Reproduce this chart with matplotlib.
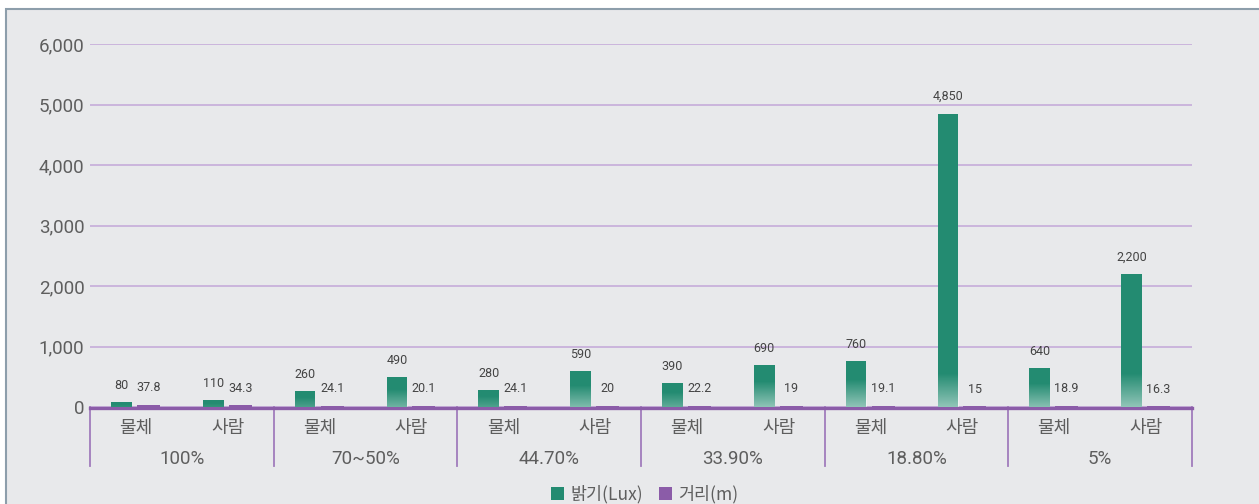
import numpy as np
import matplotlib
matplotlib.use("Agg")
import matplotlib.pyplot as plt
from matplotlib.patches import Rectangle, Patch
from matplotlib.ticker import FuncFormatter

# ---- data ----
groups = ["100%", "70~50%", "44.70%", "33.90%", "18.80%", "5%"]
targets = ["물체", "사람"]
brightness = [80, 110, 260, 490, 280, 590, 390, 690, 760, 4850, 640, 2200]
distance = [37.8, 34.3, 24.1, 20.1, 24.1, 20, 22.2, 19, 19.1, 15, 18.9, 16.3]
y_ticks = [0, 1000, 2000, 3000, 4000, 5000, 6000]
series_names = ["밝기(Lux)", "거리(m)"]

GREEN = "#238b71"
PURPLE = "#8b5ca8"
GRID = "#c6acd9"
TEXT = "#5e5e5e"
BG = "#e8e9eb"

plt.rcParams["font.family"] = ["Noto Sans CJK KR", "DejaVu Sans"]
NUM_FONT = ["Liberation Sans Narrow", "Roboto", "DejaVu Sans"]

fig = plt.figure(figsize=(12.59, 5.04), dpi=100)
fig.patch.set_facecolor("white")
fig.add_artist(Rectangle((5.5 / 1259, -0.05), 1.2, 1 - 8.5 / 504 + 0.05,
                         transform=fig.transFigure, facecolor=BG,
                         edgecolor="#8d9eab", linewidth=1.5, zorder=0))

ax = fig.add_axes([90 / 1259, 1 - 407 / 504, (1192 - 90) / 1259, (407 - 44) / 504])
ax.set_facecolor("none")

n = len(brightness)
x = np.arange(n) + 0.5
g_off, p_off = -0.158, 0.136

gbars = ax.bar(x + g_off, brightness, width=0.225, color=GREEN, zorder=3)
pbars = ax.bar(x + p_off, distance, width=0.25, color=PURPLE, zorder=3)

# light fade at the foot of each brightness bar, stronger on taller bars
grad = np.zeros((64, 1, 4))
grad[..., :3] = 1.0
for bar, v in zip(gbars, brightness):
    x0 = bar.get_x()
    fade_h = min(0.6 * v, 560)
    g = grad.copy()
    g[:, 0, 3] = np.linspace(0.5 * min(1.0, v / 700), 0.0, 64)
    im = ax.imshow(g, origin="lower", aspect="auto",
                   extent=(x0, x0 + bar.get_width(), 0, fade_h),
                   interpolation="bilinear", zorder=4)
    im.set_clip_path(bar)

# value labels
for bar, v in zip(gbars, brightness):
    ax.annotate(f"{v:,}", (bar.get_x() + bar.get_width() / 2, v),
                xytext=(0, 7.5), textcoords="offset points", ha="center", va="bottom",
                fontsize=9, color="#444444", family=NUM_FONT)
for bar, v in zip(pbars, distance):
    ax.annotate(f"{v:g}", (bar.get_x() + bar.get_width() / 2, v),
                xytext=(0, 7.5), textcoords="offset points", ha="center", va="bottom",
                fontsize=9, color="#444444", family=NUM_FONT)

ax.set_xlim(0, n)
ax.set_ylim(0, 6000)
ax.set_yticks(y_ticks)
ax.yaxis.set_major_formatter(FuncFormatter(lambda v, _: f"{int(v):,}"))
ax.tick_params(axis="y", length=0, pad=4, labelsize=13.5, labelcolor=TEXT)
for lab in ax.get_yticklabels():
    lab.set_family(["Roboto", "DejaVu Sans"])
ax.set_xticks([])
ax.yaxis.grid(True, color=GRID, linewidth=1.2, zorder=1)
ax.set_axisbelow(True)
for s in ["top", "right", "left"]:
    ax.spines[s].set_visible(False)
ax.spines["bottom"].set_color(PURPLE)
ax.spines["bottom"].set_linewidth(2.4)
ax.spines["bottom"].set_position(("outward", 1.0))
ax.spines["bottom"].set_zorder(2.5)

# two-level category axis
tr = ax.get_xaxis_transform()
for i, xc in enumerate(x):
    ax.text(xc, -0.058, targets[i % 2], transform=tr, ha="center", va="center",
            fontsize=13, color=TEXT)
for gi, g in enumerate(groups):
    ax.text(2 * gi + 1, -0.143, g, transform=tr, ha="center", va="center",
            fontsize=13.5, color=TEXT, family=["Roboto", "DejaVu Sans"])
for b in range(0, n + 1, 2):
    ax.plot([b, b], [0, -0.162], transform=tr, color="#a07cbc", linewidth=1.3,
            clip_on=False, zorder=2)

handles = [Patch(facecolor=GREEN), Patch(facecolor=PURPLE)]
fig.legend(handles, series_names, loc="center", bbox_to_anchor=(0.512, 10 / 504),
           ncol=2, frameon=False, fontsize=12.5, handlelength=0.75, handleheight=0.75,
           handletextpad=0.35, columnspacing=0.9, labelcolor=TEXT)

fig.savefig("out.png", dpi=100, facecolor=fig.get_facecolor())
